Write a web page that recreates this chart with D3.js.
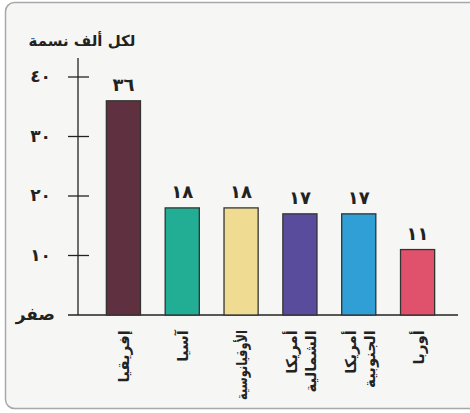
<!DOCTYPE html>
<meta charset="utf-8">
<style>
body { margin: 0; background: #fff; }
text { font-family: "DejaVu Sans", sans-serif; fill: #222; }
</style>
<svg width="470" height="413"></svg>
<script src="https://d3js.org/d3.v7.min.js"></script>
<script>

// data
var regions = ["إفريقيا", "آسيا", "الأوقيانوسية", "أمريكا الشمالية", "أمريكا الجنوبية", "أوربا"];
var rates = [36, 18, 18, 17, 17, 11];
var colors = ["#5f3140", "#22ad95", "#efdc92", "#5a4c9c", "#2f9fd5", "#e0526b"];
var yTicks = [10, 20, 30, 40];

var arNum = d => String(d).replace(/[0-9]/g, c => "٠١٢٣٤٥٦٧٨٩"[+c]);

var svg = d3.select("svg");

// card background (right edge runs off the picture)
svg.append("rect")
    .attr("x", 5.5).attr("y", 2.5)
    .attr("width", 480).attr("height", 406)
    .attr("rx", 9)
    .attr("fill", "#f6f6f4")
    .attr("stroke", "#a8a8a8")
    .attr("stroke-width", 1.5);

var x = d3.scaleBand()
    .domain(regions)
    .range([94, 447])
    .paddingInner(0.42)
    .paddingOuter(0.21);

var y = d3.scaleLinear()
    .domain([0, 40])
    .range([315, 77]);

// y axis line
svg.append("line")
    .attr("x1", 78).attr("x2", 78)
    .attr("y1", 58).attr("y2", y(0))
    .attr("stroke", "#222").attr("stroke-width", 1.3);

// baseline
svg.append("line")
    .attr("x1", 68).attr("x2", 458)
    .attr("y1", y(0)).attr("y2", y(0))
    .attr("stroke", "#222").attr("stroke-width", 1.3);

// ticks
svg.selectAll(".tick")
    .data(yTicks)
    .enter().append("line")
    .attr("x1", 68).attr("x2", 89)
    .attr("y1", d => y(d)).attr("y2", d => y(d))
    .attr("stroke", "#222").attr("stroke-width", 1.3);

svg.selectAll(".tlab")
    .data(yTicks)
    .enter().append("text")
    .attr("x", 51)
    .attr("y", d => y(d) + 5)
    .attr("text-anchor", "end")
    .attr("font-size", 17)
    .attr("font-weight", "bold")
    .text(d => arNum(d));

svg.append("text")
    .attr("x", 55).attr("y", y(0) + 5)
    .attr("text-anchor", "end")
    .attr("font-size", 17)
    .attr("font-weight", "bold")
    .text("صفر");

// title
svg.append("text")
    .attr("x", 82).attr("y", 46)
    .attr("text-anchor", "middle")
    .attr("font-size", 15)
    .attr("font-weight", "bold")
    .text("لكل ألف نسمة");

// bars
svg.selectAll(".bar")
    .data(regions)
    .enter().append("rect")
    .attr("x", d => x(d))
    .attr("y", (d, i) => y(rates[i]))
    .attr("width", x.bandwidth())
    .attr("height", (d, i) => y(0) - y(rates[i]))
    .attr("fill", (d, i) => colors[i])
    .attr("stroke", "#333")
    .attr("stroke-width", 1.3);

// value labels
svg.selectAll(".val")
    .data(regions)
    .enter().append("text")
    .attr("x", d => x(d) + x.bandwidth() / 2)
    .attr("y", (d, i) => y(rates[i]) - 10)
    .attr("text-anchor", "middle")
    .attr("font-size", 18)
    .attr("font-weight", "bold")
    .text((d, i) => arNum(rates[i]));

// category labels, rotated, one or two lines
var cat = svg.selectAll(".cat")
    .data(regions)
    .enter().append("g")
    .attr("transform", d => {
      var n = d.split(" ").length;
      var cx = x(d) + x.bandwidth() / 2 - (n - 1) * 9;
      return "translate(" + cx + ",330) rotate(-90)";
    });

cat.selectAll("text")
    .data(d => d.split(" "))
    .enter().append("text")
    .attr("x", 0)
    .attr("y", (d, i) => 6 + i * 19)
    .attr("text-anchor", "end")
    .attr("font-size", 15)
    .attr("font-weight", "bold")
    .text(d => d)
    .each(function() {
      // squeeze long words so they stay inside the card
      if (this.getComputedTextLength() > 70) {
        d3.select(this).attr("textLength", 70).attr("lengthAdjust", "spacingAndGlyphs");
      }
    });

</script>
